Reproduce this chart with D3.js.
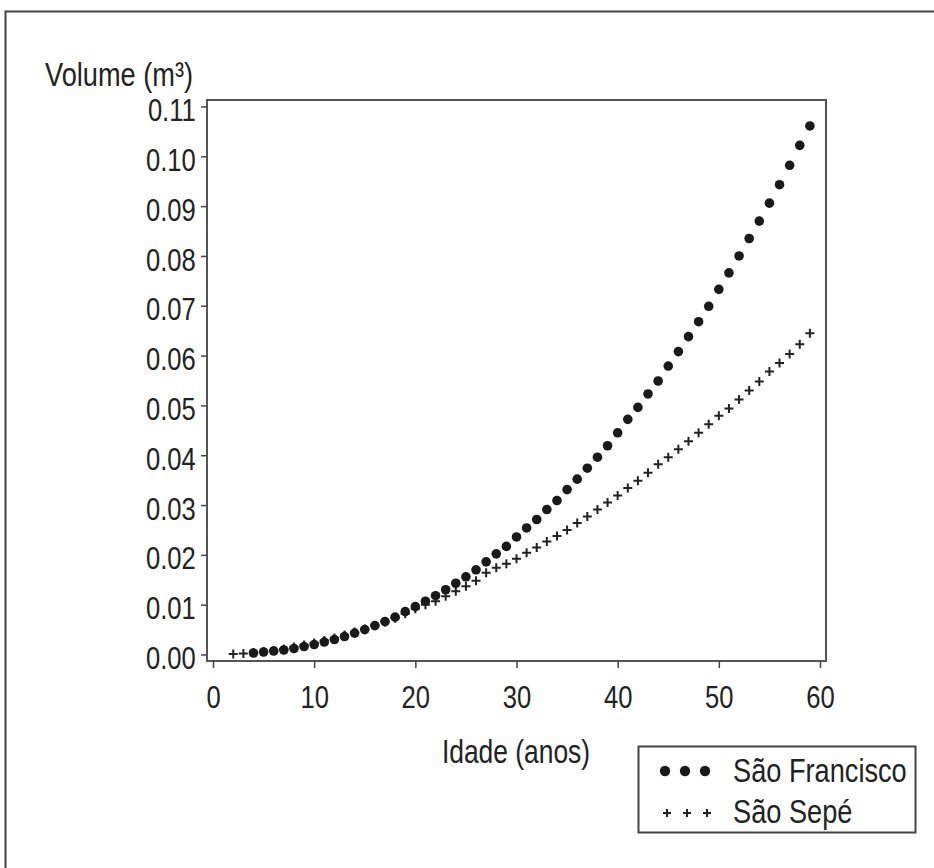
<!DOCTYPE html>
<html>
<head>
<meta charset="utf-8">
<script src="https://cdn.jsdelivr.net/npm/d3@7"></script>
<style>
  body { margin: 0; background: #fff; }
  svg text { font-family: "Liberation Sans", Arial, sans-serif; fill: #222; }
</style>
</head>
<body>
<div id="chart"></div>
<script>
// age (years) and volume (m3)
const agesFrancisco = [4,5,6,7,8,9,10,11,12,13,14,15,16,17,18,19,20,21,22,23,24,25,26,27,28,29,30,31,32,33,34,35,36,37,38,39,40,41,42,43,44,45,46,47,48,49,50,51,52,53,54,55,56,57,58,59];
const volFrancisco = [0.0003,0.0005,0.0007,0.0009,0.0012,0.0016,0.0020,0.0025,0.0030,0.0036,0.0043,0.0050,0.0058,0.0066,0.0075,0.0086,0.0096,0.0107,0.0118,0.0130,0.0143,0.0156,0.0170,0.0186,0.0202,0.0217,0.0236,0.0254,0.0271,0.0291,0.0309,0.0331,0.0352,0.0374,0.0396,0.0419,0.0445,0.0472,0.0496,0.0523,0.0549,0.0579,0.0608,0.0638,0.0668,0.0699,0.0733,0.0766,0.0800,0.0835,0.0870,0.0906,0.0943,0.0982,0.1022,0.1061];

const agesSepe = [2,3,4,5,6,7,8,9,10,11,12,13,14,15,16,17,18,19,20,21,22,23,24,25,26,27,28,29,30,31,32,33,34,35,36,37,38,39,40,41,42,43,44,45,46,47,48,49,50,51,52,53,54,55,56,57,58,59];
const volSepe = [0.0001,0.0002,0.0004,0.0006,0.0008,0.0011,0.0015,0.0019,0.0023,0.0028,0.0033,0.0039,0.0045,0.0051,0.0058,0.0065,0.0073,0.0082,0.0092,0.0100,0.0107,0.0117,0.0127,0.0137,0.0148,0.0164,0.0174,0.0182,0.0192,0.0204,0.0215,0.0227,0.0238,0.0250,0.0264,0.0277,0.0291,0.0305,0.0319,0.0334,0.0349,0.0365,0.0382,0.0396,0.0412,0.0428,0.0445,0.0462,0.0479,0.0494,0.0512,0.0530,0.0548,0.0568,0.0585,0.0603,0.0623,0.0645];

const xTicks = [0, 10, 20, 30, 40, 50, 60];
const yTicks = [0, 0.01, 0.02, 0.03, 0.04, 0.05, 0.06, 0.07, 0.08, 0.09, 0.10, 0.11];
const seriesNames = ['São Francisco', 'São Sepé'];

const W = 934, H = 868;
const narrow = 0.8; // the original type is a condensed sans

const svg = d3.select('#chart').append('svg')
    .attr('width', W)
    .attr('height', H);

// outer frame (only left/top visible in the crop)
svg.append('path')
    .attr('d', `M5.5,${H} L5.5,11.5 L${W},11.5`)
    .attr('fill', 'none')
    .attr('stroke', '#444')
    .attr('stroke-width', 2);

// scales
const x = d3.scaleLinear().domain([0, 60]).range([213, 820]);
const y = d3.scaleLinear().domain([0, 0.11]).range([654.5, 106.5]);

// plot box
const box = { left: 207, right: 826, top: 100, bottom: 661 };
svg.append('rect')
    .attr('x', box.left)
    .attr('y', box.top)
    .attr('width', box.right - box.left)
    .attr('height', box.bottom - box.top)
    .attr('fill', 'none')
    .attr('stroke', '#555')
    .attr('stroke-width', 2);

// y axis
const yAxis = svg.append('g')
    .attr('transform', `translate(${box.left},0)`)
    .call(d3.axisLeft(y).tickValues(yTicks).tickFormat(d3.format('.2f')).tickSize(6).tickPadding(8));
yAxis.select('.domain').remove();
yAxis.selectAll('line').attr('stroke', '#444').attr('stroke-width', 1.5);
yAxis.selectAll('text')
    .style('font-size', '32px')
    .attr('dy', '0.44em')
    .attr('fill', '#222')
    .attr('transform', `scale(${narrow},1)`);

// x axis (ticks hang below the box)
const xAxis = svg.append('g')
    .attr('transform', `translate(0,${box.bottom})`)
    .call(d3.axisBottom(x).tickValues(xTicks).tickSize(7).tickPadding(17));
xAxis.select('.domain').remove();
xAxis.selectAll('line').attr('stroke', '#444').attr('stroke-width', 1.5);
xAxis.selectAll('text')
    .style('font-size', '32px')
    .attr('fill', '#222')
    .attr('transform', `scale(${narrow},1)`);

// text helper with horizontal squeeze
function label(parent, tx, ty, txt, size, anchor) {
    parent.append('g')
        .attr('transform', `translate(${tx},${ty}) scale(${narrow},1)`)
        .append('text')
        .attr('text-anchor', anchor || 'start')
        .style('font-size', size + 'px')
        .text(txt);
}

// axis titles
label(svg, 45, 86, 'Volume (m³)', 34);
label(svg, 516, 763, 'Idade (anos)', 33, 'middle');

// crosses first, dots on top
function plus(g, cx, cy, s) {
    g.append('path')
        .attr('d', `M${cx - s},${cy} L${cx + s},${cy} M${cx},${cy - s} L${cx},${cy + s}`)
        .attr('stroke', '#222')
        .attr('stroke-width', 2)
        .attr('fill', 'none');
}

const sepeG = svg.append('g');
agesSepe.forEach((a, i) => plus(sepeG, x(a), y(volSepe[i]), 4.5));

svg.append('g').selectAll('circle')
    .data(agesFrancisco)
    .enter()
    .append('circle')
    .attr('cx', d => x(d))
    .attr('cy', (d, i) => y(volFrancisco[i]))
    .attr('r', 4.8)
    .attr('fill', '#1a1a1a');

// legend
const legend = svg.append('g');
legend.append('rect')
    .attr('x', 638.5)
    .attr('y', 746.5)
    .attr('width', 277)
    .attr('height', 86)
    .attr('fill', '#fff')
    .attr('stroke', '#444')
    .attr('stroke-width', 2);

[665, 685, 705].forEach(cx => {
    legend.append('circle').attr('cx', cx).attr('cy', 771).attr('r', 5.2).attr('fill', '#1a1a1a');
    plus(legend, cx + 2, 813, 4);
});

label(legend, 733, 782, seriesNames[0], 34);
label(legend, 733, 823, seriesNames[1], 34);
</script>
</body>
</html>
